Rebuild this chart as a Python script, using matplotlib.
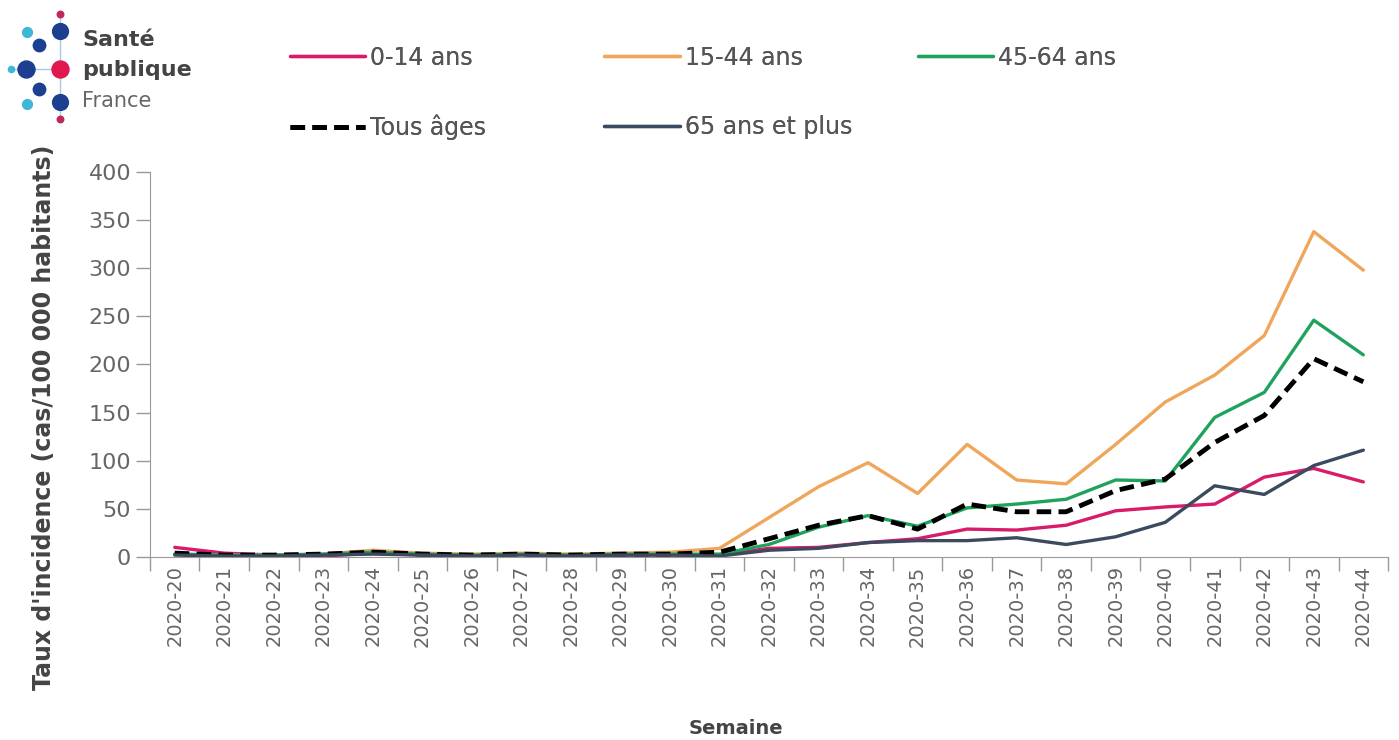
import matplotlib.pyplot as plt

weeks = ["2020-%d" % w for w in range(20, 45)]

# taux d'incidence par classe d'age
age_0_14 = [10, 4, 2, 1, 4, 2, 2, 3, 1, 2, 2, 2, 9, 10, 15, 19, 29, 28, 33, 48, 52, 55, 83, 92, 78]
age_15_44 = [3, 2, 2, 3, 7, 4, 3, 4, 3, 4, 5, 9, 41, 73, 98, 66, 117, 80, 76, 117, 161, 189, 230, 338, 298]
age_45_64 = [3, 2, 2, 3, 5, 3, 2, 3, 2, 3, 3, 3, 13, 31, 43, 32, 51, 55, 60, 80, 79, 145, 171, 246, 210]
tous_ages = [4, 2, 2, 3, 5, 3, 2, 3, 2, 3, 3, 5, 19, 33, 43, 29, 55, 47, 47, 69, 81, 119, 147, 206, 182]
age_65_plus = [2, 1, 1, 2, 3, 2, 1, 2, 1, 2, 2, 1, 7, 9, 15, 17, 17, 20, 13, 21, 36, 74, 65, 95, 111]

series = [
    ("0-14 ans", age_0_14, "#d81b6a", "-", 2.4),
    ("15-44 ans", age_15_44, "#f0a65a", "-", 2.4),
    ("45-64 ans", age_45_64, "#1fa35c", "-", 2.4),
    ("Tous âges", tous_ages, "black", (0, (3, 1.5)), 3.5),
    ("65 ans et plus", age_65_plus, "#3b4a5e", "-", 2.4),
]
# position (fraction de la figure) de chaque entree de legende
leg_pos = {"0-14 ans": (0.207, 0.922), "15-44 ans": (0.432, 0.922), "45-64 ans": (0.656, 0.922),
           "Tous âges": (0.207, 0.828), "65 ans et plus": (0.432, 0.828)}

grey = "#555555"
fig = plt.figure(figsize=(13.99, 7.4), dpi=100)
ax = fig.add_axes([0.1072, 0.2473, 0.885, 0.5203])

x = list(range(len(weeks)))
handles = {}
for name, vals, col, ls, lw in series:
    ln, = ax.plot(x, vals, color=col, linestyle=ls, linewidth=lw, label=name,
                  solid_capstyle="round", dash_capstyle="butt")
    handles[name] = ln

ax.set_xlim(-0.5, len(weeks) - 0.5)
ax.set_ylim(0, 400)
ax.set_yticks(range(0, 401, 50))
ax.tick_params(axis="y", labelsize=16, labelcolor="#666666", color="#999999", length=10, width=1)
ax.set_xticks([i - 0.5 for i in range(len(weeks) + 1)], minor=False)
ax.set_xticklabels([])
ax.set_xticks(x, minor=True)
ax.set_xticklabels(weeks, minor=True, rotation=90, fontsize=14, color="#666666")
ax.tick_params(axis="x", which="major", color="#999999", length=10, width=1)
ax.tick_params(axis="x", which="minor", length=0, pad=6)
for s in ["top", "right"]:
    ax.spines[s].set_visible(False)
for s in ["left", "bottom"]:
    ax.spines[s].set_color("#999999")

ax.set_ylabel("Taux d'incidence (cas/100 000 habitants)", fontsize=17, fontweight="bold",
              color="#444444")
ax.yaxis.set_label_coords(-0.076, 0.364)
fig.text(0.526, 0.008, "Semaine", fontsize=14, fontweight="bold", color="#444444", ha="center")

# legende
for name, pos in leg_pos.items():
    leg = fig.legend(handles=[handles[name]], loc="center left", bbox_to_anchor=pos,
                     frameon=False, handlelength=3.2, handletextpad=0.2, borderpad=0,
                     borderaxespad=0, fontsize=17)
    for t in leg.get_texts():
        t.set_color(grey)
    fig.add_artist(leg)

# logo Sante publique France
lg = fig.add_axes([0, 0, 1, 1], zorder=-1)
lg.set_xlim(0, 1399)
lg.set_ylim(740, 0)
lg.axis("off")
dots = [(26, 69, 150, "#1d3f8f"), (60, 31, 130, "#1d3f8f"), (60, 69, 150, "#e0184f"),
        (60, 102, 130, "#1d3f8f"), (39, 45, 80, "#1d3f8f"), (39, 89, 80, "#1d3f8f"),
        (27, 32, 50, "#3fb8d8"), (27, 104, 50, "#3fb8d8"), (11, 69, 20, "#3fb8d8"),
        (60, 14, 22, "#c0285a"), (60, 119, 22, "#c0285a")]
lg.plot([11, 60], [69, 69], color="#a8c8e8", lw=1, zorder=1)
lg.plot([60, 60], [14, 119], color="#a8c8e8", lw=1, zorder=1)
for dx, dy, sz, c in dots:
    lg.scatter(dx, dy, s=sz, color=c, zorder=2)
lg.text(82, 40, "Santé", fontsize=16, fontweight="bold", color="#444444", va="center")
lg.text(82, 70, "publique", fontsize=16, fontweight="bold", color="#444444", va="center")
lg.text(82, 101, "France", fontsize=15, color="#666666", va="center")

fig.savefig("out.png", dpi=100)
